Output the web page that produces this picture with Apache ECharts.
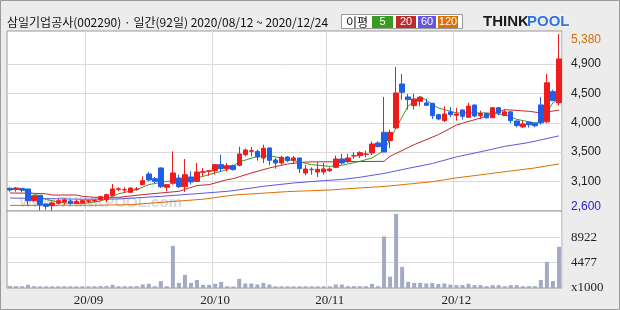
<!DOCTYPE html>
<html><head><meta charset="utf-8">
<script src="https://cdn.jsdelivr.net/npm/echarts@6/dist/echarts.min.js"></script>
<style>html,body{margin:0;padding:0;background:#ececec}#c{width:620px;height:310px}</style>
</head><body><div id="c"></div>
<script>
const dates = [
'2020-08-12','2020-08-13','2020-08-14','2020-08-18','2020-08-19','2020-08-20','2020-08-21','2020-08-24','2020-08-25','2020-08-26','2020-08-27','2020-08-28','2020-08-31',
'2020-09-01','2020-09-02','2020-09-03','2020-09-04','2020-09-07','2020-09-08','2020-09-09','2020-09-10','2020-09-11','2020-09-14','2020-09-15','2020-09-16','2020-09-17','2020-09-18','2020-09-21','2020-09-22','2020-09-23','2020-09-24','2020-09-25','2020-09-28','2020-09-29',
'2020-10-05','2020-10-06','2020-10-07','2020-10-08','2020-10-12','2020-10-13','2020-10-14','2020-10-15','2020-10-16','2020-10-19','2020-10-20','2020-10-21','2020-10-22','2020-10-23','2020-10-26','2020-10-27','2020-10-28','2020-10-29','2020-10-30',
'2020-11-02','2020-11-03','2020-11-04','2020-11-05','2020-11-06','2020-11-09','2020-11-10','2020-11-11','2020-11-12','2020-11-13','2020-11-16','2020-11-17','2020-11-18','2020-11-19','2020-11-20','2020-11-23','2020-11-24','2020-11-25','2020-11-26','2020-11-27','2020-11-30',
'2020-12-01','2020-12-02','2020-12-03','2020-12-04','2020-12-07','2020-12-08','2020-12-09','2020-12-10','2020-12-11','2020-12-14','2020-12-15','2020-12-16','2020-12-17','2020-12-18','2020-12-21','2020-12-22','2020-12-23','2020-12-24'];

const openP = [2956,2940,2956,2946,2762,2846,2710,2684,2721,2742,2757,2721,2731,2752,2757,2778,2778,2846,2940,
 2930,2893,2940,3014,3181,3108,3276,2972,3035,3118,2982,3134,3066,3208,3223,3233,3328,3265,
 3312,3317,3485,3537,3537,3433,3590,3401,3354,3448,3396,3433,3197,3250,3213,3213,3233,3286,3417,
 3380,3464,3469,3490,3511,3668,3836,3705,3904,4595,4391,4255,4323,4297,4292,4113,4019,4155,
 4103,4187,4072,4265,4098,4133,4064,4222,4098,4158,4014,3922,3995,3980,4266,4000,4475,4300];
const closeP = [2930,2961,2930,2762,2841,2700,2673,2726,2762,2773,2721,2752,2762,2762,2768,2825,2857,2946,2950,
 2935,2961,2946,3076,3087,3066,2982,3014,3197,2982,3171,3056,3213,3218,3233,3328,3265,3312,
 3250,3496,3558,3548,3448,3585,3396,3354,3443,3391,3433,3265,3260,3255,3255,3260,3260,3417,3354,
 3433,3469,3516,3496,3653,3611,3527,3836,4454,4464,4349,4360,4386,4260,4098,4045,4124,4113,
 4124,4088,4248,4093,4130,4064,4222,4138,4158,4019,3941,3967,3955,3938,3985,4614,4334,4988];
const lowP = [2904,2904,2893,2684,2747,2610,2621,2605,2700,2700,2700,2710,2715,2726,2736,2762,2742,2830,2910,
 2883,2883,2920,3003,3066,3040,2961,2909,3014,2961,2898,3014,3056,3145,3155,3171,3213,3223,
 3234,3302,3459,3459,3391,3354,3317,3265,3328,3370,3338,3197,3160,3171,3134,3171,3213,3276,3328,
 3354,3422,3433,3443,3480,3600,3527,3590,3894,4350,4192,4192,4244,4250,4045,4024,3998,4077,
 4019,4035,4061,4072,4045,4051,4061,4103,4093,3982,3914,3904,3910,3914,3956,3982,4323,4260];
const highP = [2972,2977,2961,2950,2857,2850,2715,2752,2794,2794,2778,2773,2778,2778,2778,2841,2872,3024,2972,
 2972,2967,2977,3145,3213,3134,3286,3020,3537,3171,3417,3223,3354,3276,3240,3338,3485,3354,
 3328,3610,3579,3605,3563,3642,3595,3433,3469,3464,3464,3438,3323,3286,3365,3354,3286,3469,3496,
 3496,3522,3537,3548,3694,3694,4391,3878,4862,4752,4438,4443,4401,4365,4297,4124,4244,4234,
 4218,4192,4297,4270,4176,4140,4234,4234,4190,4160,4019,4019,4000,3982,4391,4752,4506,5380];
const volume = [350,330,310,560,330,300,290,300,300,310,290,290,300,300,320,340,340,560,320,
 320,320,320,615,730,320,1200,320,7400,900,2300,900,1400,555,555,730,1080,320,
 270,1600,790,790,615,900,615,300,290,300,280,300,300,280,290,300,300,615,615,
 320,320,320,320,730,320,9040,2000,13000,3700,1100,900,900,800,900,700,800,600,
 500,500,730,500,500,320,500,500,320,500,500,320,320,320,1400,4580,1220,7240];

const ma5 = [[0,2950],[2,2930],[4,2870],[6,2780],[9,2726],[12,2715],[15,2755],[18,2870],[21,2935],[23,3014],[26,3066],[30,3092],[33,3171],[36,3250],[38,3370],[41,3459],[43,3469],[47,3391],[50,3328],[53,3302],[55,3318],[58,3380],[60,3433],[62,3550],[64,3904],[66,4250],[68,4400],[71,4218],[74,4140],[79,4140],[82,4113],[84,4040],[87,3982],[88,3990],[89,4150],[90,4300],[91,4360]];
const ma20 = [[0,2883],[3,2880],[6,2870],[7,2851],[11,2851],[12,2830],[14,2815],[18,2815],[22,2857],[28,2909],[31,3000],[33,3014],[36,3092],[37,3108],[40,3197],[43,3276],[46,3338],[49,3370],[62,3380],[63,3459],[67,3642],[71,3799],[74,3950],[78,4061],[82,4192],[86,4166],[88,4140],[91,4185]];
const ma60 = [[0,2804],[6,2795],[12,2785],[18,2789],[25,2830],[31,2872],[36,2909],[37,2920],[42,2988],[47,3040],[52,3077],[55,3095],[58,3130],[62,3190],[66,3270],[70,3345],[74,3450],[78,3530],[82,3615],[86,3675],[91,3780]];
const ma120 = [[0,2688],[14,2690],[20,2700],[25,2735],[32,2785],[37,2850],[46,2905],[53,2930],[58,2962],[62,2985],[70,3060],[74,3120],[79,3180],[87,3276],[91,3340]];

const priceLabelValues = [2600, 3062, 3524, 3985, 4447, 4909, 5380];
const priceLabels = ['2,600','3,100','3,500','4,000','4,500','4,900','5,380'];
const volLabelValues = [0, 4477, 8922];
const volLabels = ['x1000','4477','8922'];
const maNames = ['5','20','60','120'];
const titleText = '삼일기업공사(002290) · 일간(92일) 2020/08/12 ~ 2020/12/24';

const C_UP = '#f01c1c', C_DN = '#1f5fe6';
const MA_COL = ['#3a9a22','#c22a2a','#6454e0','#dc7000'];
const GRIDC = '#dadada';

const monthStart = dates.map((d,i)=> i>0 && d.slice(5,7)!==dates[i-1].slice(5,7));
const candle = dates.map((d,i)=>[openP[i], closeP[i], lowP[i], highP[i]]);

const chart = echarts.init(document.getElementById('c'), null, {renderer:'canvas'});
const lblFont = {fontFamily:'Liberation Sans', fontSize:12, color:'#222'};
chart.setOption({
  animation:false,
  backgroundColor:'#ececec',
  grid:[
    {left:7, top:31, width:555, height:180, show:true, backgroundColor:'#fff', borderColor:'#9a9a9a', borderWidth:1},
    {left:7, top:211, width:555, height:77, show:true, backgroundColor:'#fff', borderColor:'#9a9a9a', borderWidth:1}
  ],
  xAxis:[
    {type:'category', gridIndex:0, data:dates, boundaryGap:true, axisLine:{show:false}, axisTick:{show:false}, axisLabel:{show:false},
     splitLine:{show:true, interval:(i)=>monthStart[i], lineStyle:{color:GRIDC, width:1}}},
    {type:'category', gridIndex:1, data:dates, boundaryGap:true, axisLine:{show:false}, axisTick:{show:false},
     axisLabel:{interval:(i)=>monthStart[i], formatter:(v)=>v.slice(2,4)+'/'+v.slice(5,7), margin:6,
       fontFamily:'Liberation Sans Narrow', fontSize:13, color:'#222'},
     splitLine:{show:true, interval:(i)=>monthStart[i], lineStyle:{color:GRIDC, width:1}}}
  ],
  yAxis:[
    {type:'value', gridIndex:0, position:'right', min:2600, max:5427,
     axisLine:{show:false}, axisTick:{show:false, customValues:priceLabelValues.slice(1,6)},
     splitLine:{show:true, lineStyle:{color:GRIDC, width:1}},
     axisLabel:{customValues:priceLabelValues, margin:9, align:'left',
       verticalAlignMinLabel:'bottom', verticalAlignMaxLabel:'top',
       formatter:(v)=>{const k=priceLabelValues.indexOf(v); const t=priceLabels[k];
         return k===0?'{lo|'+t+'}':(k===priceLabels.length-1?'{hi|'+t+'}':'{n|'+t+'}');},
       rich:{n:lblFont, lo:Object.assign({},lblFont,{color:'#1c1cd0', lineHeight:8}), hi:Object.assign({},lblFont,{color:'#d46e00'})}}},
    {type:'value', gridIndex:1, position:'right', min:0, max:13513,
     axisLine:{show:false}, axisTick:{show:false, customValues:volLabelValues.slice(1)},
     splitLine:{show:true, lineStyle:{color:GRIDC, width:1}},
     axisLabel:{customValues:volLabelValues, margin:9, align:'left',
       formatter:(v)=>volLabels[volLabelValues.indexOf(v)],
       fontFamily:'Liberation Sans Narrow', fontSize:13, color:'#222'}}
  ],
  series:[
    {type:'line', name:'120', xAxisIndex:0, yAxisIndex:0, data:ma120, showSymbol:false, z:2, lineStyle:{color:MA_COL[3], width:1}},
    {type:'line', name:'60', xAxisIndex:0, yAxisIndex:0, data:ma60, showSymbol:false, z:2, lineStyle:{color:MA_COL[2], width:1}},
    {type:'line', name:'20', xAxisIndex:0, yAxisIndex:0, data:ma20, showSymbol:false, z:2, lineStyle:{color:MA_COL[1], width:1}},
    {type:'line', name:'5', xAxisIndex:0, yAxisIndex:0, data:ma5, showSymbol:false, z:2, lineStyle:{color:MA_COL[0], width:1}},
    {type:'candlestick', xAxisIndex:0, yAxisIndex:0, data:candle, barWidth:5, z:3,
     itemStyle:{color:C_UP, color0:C_DN, borderColor:C_UP, borderColor0:C_DN, borderWidth:1}},
    {type:'bar', xAxisIndex:1, yAxisIndex:1, data:volume, barWidth:4, itemStyle:{color:'#a2abc3'}}
  ],
  graphic:[
    {type:'rect', shape:{x:0.5,y:0.5,width:619,height:309}, style:{fill:'none', stroke:'#9a9a9a', lineWidth:1}, z:10},
    {type:'text', x:7, y:22, style:{text:titleText, font:'12px "Noto Sans CJK KR"', fill:'#111', verticalAlign:'middle'}},
    {type:'rect', shape:{x:341.5,y:14.5,width:121,height:14}, style:{fill:'#fff', stroke:'#9a9a9a', lineWidth:1}},
    {type:'text', x:346, y:22, style:{text:'이평', font:'12px "Noto Sans CJK KR"', fill:'#111', verticalAlign:'middle'}},
    {type:'rect', shape:{x:372,y:16,width:21,height:12}, style:{fill:MA_COL[0]}},
    {type:'rect', shape:{x:396,y:16,width:20,height:12}, style:{fill:MA_COL[1]}},
    {type:'rect', shape:{x:418,y:16,width:18,height:12}, style:{fill:MA_COL[2]}},
    {type:'rect', shape:{x:438,y:16,width:20,height:12}, style:{fill:MA_COL[3]}},
    {type:'text', x:382.5, y:22, style:{text:maNames[0], font:'11px "Liberation Sans"', fill:'#fff', align:'center', verticalAlign:'middle'}},
    {type:'text', x:406, y:22, style:{text:maNames[1], font:'11px "Liberation Sans"', fill:'#fff', align:'center', verticalAlign:'middle'}},
    {type:'text', x:427, y:22, style:{text:maNames[2], font:'11px "Liberation Sans"', fill:'#fff', align:'center', verticalAlign:'middle'}},
    {type:'text', x:448, y:22, style:{text:maNames[3], font:'11px "Liberation Sans"', fill:'#fff', align:'center', verticalAlign:'middle'}},
    {type:'text', x:483, y:22, style:{text:'THINK', font:'bold 15px "Liberation Sans"', fill:'#1a1a1a', verticalAlign:'middle'}},
    {type:'text', x:527, y:22, style:{text:'POOL', font:'bold 15px "Liberation Sans"', fill:'#2f72e0', stroke:'#ffffff', lineWidth:1, verticalAlign:'middle'}},
    {type:'text', x:20, y:203, z:1, style:{text:'www.THINKPOOL.com', font:'bold 15px "Liberation Sans"', fill:'rgba(150,150,150,0.35)', verticalAlign:'middle'}}
  ]
});
</script></body></html>
